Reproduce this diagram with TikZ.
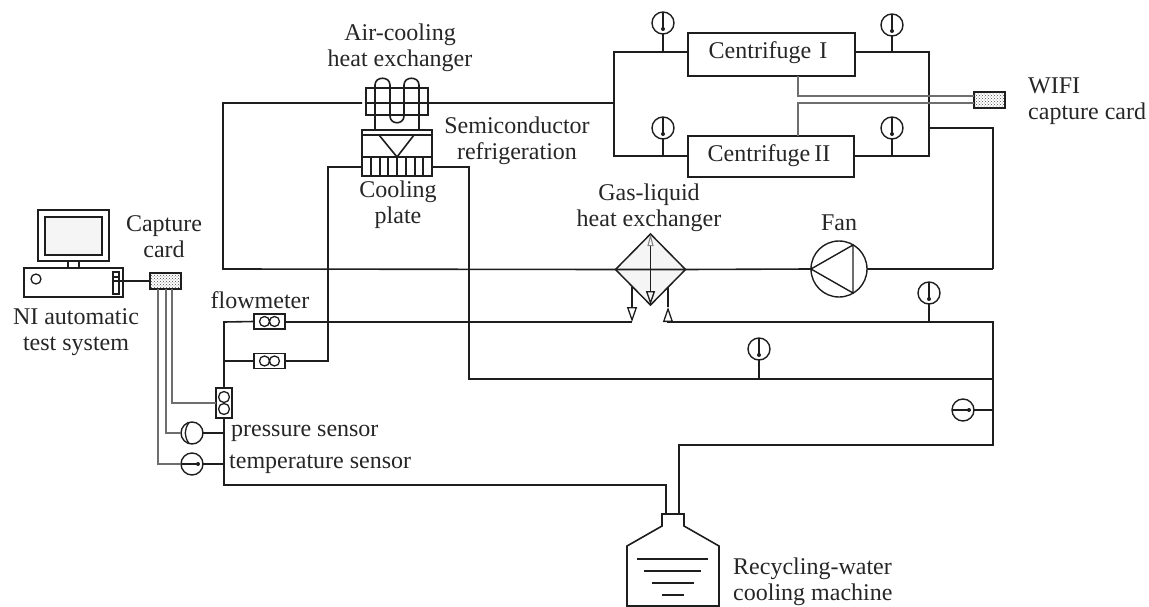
\documentclass[tikz,border=0pt]{standalone}
\usepackage{fontspec}
\setmainfont{Liberation Serif}
\usetikzlibrary{shapes.geometric, arrows.meta, positioning, calc, patterns}
\definecolor{cLine}{RGB}{30,30,30}
\definecolor{cWire}{RGB}{110,110,110}
\tikzset{
	pipe/.style     ={draw=cLine, line width=1.6pt},
	wire/.style     ={draw=cWire, line width=1.1pt},
	blk/.style      ={rectangle, draw=cLine, line width=1.6pt, inner sep=0pt, outer sep=0pt},
	card/.style     ={blk, minimum width=31pt, minimum height=16pt, pattern=crosshatch dots, pattern color=black!70},
	flowm/.style    ={blk, minimum width=31pt, minimum height=15pt},
	gauge/.style    ={circle, draw=cLine, line width=1.4pt, minimum size=22pt, inner sep=0pt, outer sep=0pt},
	lbl/.style      ={align=center, inner sep=0pt},
	openTip/.style  ={-{Triangle[open, length=15pt, width=10pt, line width=1.3pt]}},
}

\begin{document}
\begin{tikzpicture}[x=1pt, y=-1pt, font=\fontsize{24}{26}\selectfont, text=black!85]
			\useasboundingbox (0,0) rectangle (1149,607);
			% air cooler and semiconductor stack
			\node[blk, minimum width=62pt, minimum height=27pt] (hx) at (397,101.5) {};
			\node[blk, minimum width=70pt, minimum height=46pt] (semi) at (397,153) {};
			\coordinate (airL) at (362,103);
			\coordinate (airR) at (427,103);
			\coordinate (plateL) at (362,167);
			\coordinate (plateR) at (432,167);
			\draw[pipe] (hx.west |- airL) -- (airR);
			\foreach \x in {375,390,404,419} {
				\draw[pipe] (\x,88) -- (\x,115);
			}
			\draw[pipe] (375,130) -- (375,85) .. controls (375,76) and (390,76) .. (390,85) -- (390,116)
				.. controls (390,125) and (404,125) .. (404,116) -- (404,85)
				.. controls (404,76) and (419,76) .. (419,85) -- (419,130);
			\draw[pipe] (362,135) -- (432,135) (362,157) -- (432,157);
			\draw[pipe] (379,135) -- (397,157) -- (414,135);
			\foreach \x in {371,380,388,397,406,415,423} {
				\draw[pipe] (\x,157) -- (\x,176);
			}
			% centrifuges
			\node[blk, minimum width=167pt, minimum height=43pt] (cenA) at (771.5,54.5) {};
			\node[blk, minimum width=166pt, minimum height=41pt] (cenB) at (771,156.5) {};
			\node[lbl] (cenAtxt) at (768,53) {Centrifuge\,\,I};
			\node[lbl] (cenBtxt) at (769,156) {Centrifuge\,II};
			\coordinate (jTL) at (614,52);
			\coordinate (jBL) at (614,156);
			\coordinate (jTR) at (929,52);
			\coordinate (jBR) at (929,156);
			\coordinate (jFan) at (993,128);
			\coordinate (jFanD) at (993,269);
			\draw[pipe] (cenA.west |- jTL) -- (jTL) -- (jBL) -- (cenB.west |- jBL);
			\draw[pipe] (cenA.east |- jTR) -- (jTR) -- (jBR) -- (cenB.east |- jBR);
			\draw[pipe] (airR) -- (jTL |- airR);
			\draw[pipe] (jTR |- jFan) -- (jFan) -- (jFanD);
			% gas-liquid exchanger, fan
			\node[diamond, aspect=1, draw=cLine, line width=1.5pt, fill=gray!8, minimum width=70pt, minimum height=71pt, inner sep=0pt, outer sep=0pt] (gas) at (650.5,269.5) {};
			\node[gauge, minimum size=56pt] (fan) at (839,269) {};
			\draw[pipe, line width=1.4pt] (fan.west) -- (853,245) -- (853,293) -- cycle;
			\coordinate (loopL) at (223,103);
			\coordinate (loopB) at (223,269);
			\draw[pipe] (airL) -- (loopL) -- (loopB) -- (gas.west) -- (gas.east) -- (fan.west);
			\draw[pipe] (fan.east) -- (jFanD);
			\draw[pipe, {Triangle[open, length=12pt, width=6pt, line width=1pt, color=gray]}-{Triangle[open, length=14pt, width=9pt, line width=1.3pt]}] (gas.north) -- (gas.south);
			% water side
			\node[flowm] (fmA) at (269.5,321.5) {};
			\node[flowm] (fmB) at (269.5,361) {};
			\node[blk, minimum width=16pt, minimum height=30pt] (fmC) at (224,403) {};
			\foreach \n in {fmA, fmB} {
				\draw[line width=1.3pt, cLine] ($(\n.center)+(-5,0)$) circle (5pt) ($(\n.center)+(5,0)$) circle (5pt);
			}
			\draw[line width=1.3pt, cLine] ($(fmC.center)+(0,-6)$) circle (5.5pt) ($(fmC.center)+(0,6)$) circle (5.5pt);
			\coordinate (inL) at (632,322);
			\coordinate (inR) at (668,322);
			\coordinate (inLtop) at (632,287);
			\coordinate (inRtop) at (668,287);
			\coordinate (inRtip) at (668,307);
			\coordinate (busR) at (993,322);
			\coordinate (busL) at (224,322);
			\coordinate (busB) at (224,485);
			\coordinate (cornerPlate) at (328,167);
			\coordinate (cornerRet) at (469,167);
			\coordinate (retB) at (469,379);
			\coordinate (tankIn) at (666,514);
			\coordinate (tankOut) at (679,514);
			\coordinate (retEnd) at (993,445);
			\draw[pipe] (fmA.east |- inL) -- (inL);
			\draw[pipe, openTip] (inLtop) -- (inL);
			\draw[pipe, openTip] (inR) -- (inRtip);
			\draw[pipe] (inRtip) -- (inRtop);
			\draw[pipe] (inR) -- (busR) -- (retEnd) -- (tankOut |- retEnd) -- (tankOut);
			\draw[pipe] (fmA.west) -- (busL) -- (fmC.north);
			\draw[pipe] (fmC.south) -- (busB) -- (tankIn |- busB) -- (tankIn);
			\draw[pipe] (busL |- fmB) -- (fmB.west);
			\draw[pipe] (fmB.east) -- (cornerPlate |- fmB) -- (cornerPlate) -- (plateL);
			\draw[pipe] (plateR) -- (cornerRet) -- (retB) -- (busR |- retB);
			% gauges
			\foreach \x/\y/\n/\s in {663/23/gA/jTL, 892/25/gB/jTR, 663/128/gC/jBL, 892/128/gD/jBR, 929/293/gE/busR, 759/349/gF/retB} {
				\node[gauge] (\n) at (\x,\y) {};
				\draw[pipe, line width=1.3pt] (\n.north) -- ($(\n.center)+(0,6)$);
				\fill[cLine] ($(\n.center)+(0,6)$) circle (2pt);
				\draw[pipe] (\n.south) -- (\n.center |- \s);
			}
			\node[gauge] (gG) at (963,410) {};
			\node[gauge] (gT) at (192,464) {};
			\node[gauge] (gP) at (192,433) {};
			\foreach \n in {gG, gT} {
				\draw[pipe, line width=1.3pt] (\n.west) -- ($(\n.center)+(6,0)$);
				\fill[cLine] ($(\n.center)+(6,0)$) circle (2pt);
			}
			\draw[line width=1.3pt, cLine] ($(gP.north)+(-3,0.5)$) .. controls ($(gP.center)+(-8,-3)$) and ($(gP.center)+(-8,3)$) .. ($(gP.south)+(-3,-0.5)$);
			\draw[pipe] (gG.east) -- (busR |- gG);
			\draw[pipe] (gT.east) -- (busL |- gT);
			\draw[pipe] (gP.east) -- (busL |- gP);
			% computer
			\node[blk, minimum width=71pt, minimum height=51pt] (screen) at (73.5,235.5) {};
			\node[blk, fill=gray!8, minimum width=57pt, minimum height=38pt] (glass) at (73.5,236) {};
			\node[blk, minimum width=99pt, minimum height=29pt] (tower) at (73.5,282.5) {};
			\node[circle, draw=cLine, line width=1.3pt, minimum size=10pt, inner sep=0pt] (disk) at (36,279) {};
			\node[blk, line width=1.2pt, minimum width=6pt, minimum height=22pt] (slot) at (116,283) {};
			\draw[pipe] (68,261) -- (68,268) (79,261) -- (79,268);
			\node[card] (cardA) at (165.5,281) {};
			\node[card] (cardB) at (989.5,100) {};
			\draw[pipe, line width=1.2pt] (slot.center |- cardA) -- (cardA.west);
			\draw[pipe, line width=1.2pt] (113,277) -- (119,277) (113,281) -- (119,281);
			% signal wires
			\draw[wire] (158,289) |- (gT.west);
			\draw[wire] (166,289) |- (gP.west);
			\draw[wire] (172,289) |- (fmC.west);
			\draw[wire] (798,76) |- (974,96);
			\draw[wire] (798,136) |- (974,103);
			% tank
			\draw[pipe] (662,526) -- (662,514) -- (684,514) -- (684,526) -- (719,546) -- (719,606) -- (627,606) -- (627,546) -- cycle;
			\foreach \y/\a/\b in {559/637/708, 571/644/701, 583/652/694, 595/662/684} {
				\draw[pipe] (\a,\y) -- (\b,\y);
			}
			% labels
			\node[lbl] (lblAir) at (400,48) {Air-cooling\\heat exchanger};
			\node[lbl] (lblSemi) at (517,141) {Semiconductor\\refrigeration};
			\node[lbl] (lblPlate) at (398,205) {Cooling\\plate};
			\node[lbl] (lblCard) at (164,237) {Capture\\card};
			\node[lbl] (lblNI) at (76,332) {NI automatic\\test system};
			\node[lbl] (lblFlow) at (260,300) {flowmeter};
			\node[lbl, anchor=west] (lblP) at (231,433) {pressure sensor};
			\node[lbl, anchor=west] (lblT) at (229,464) {temperature sensor};
			\node[lbl] (lblGas) at (649,208) {Gas-liquid\\heat exchanger};
			\node[lbl] (lblFan) at (839,223) {Fan};
			\node[lbl, align=left, anchor=west] (lblWifi) at (1028,101) {WIFI\\capture card};
			\node[lbl, align=left, anchor=west] (lblTank) at (733,582) {Recycling-water\\cooling machine};
\end{tikzpicture}
\end{document}
